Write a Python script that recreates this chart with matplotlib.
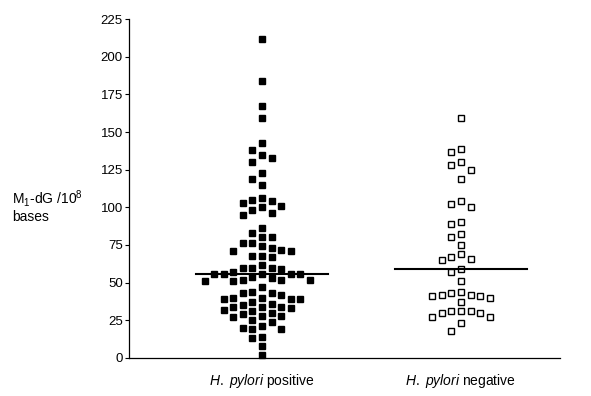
import numpy as np
import matplotlib
matplotlib.use("Agg")
import matplotlib.pyplot as plt

plt.rcParams['font.family'] = ['Liberation Sans', 'DejaVu Sans']
plt.rcParams['mathtext.fontset'] = 'custom'
plt.rcParams['mathtext.rm'] = 'Liberation Sans'
plt.rcParams['mathtext.it'] = 'Liberation Sans:italic'

# M1-dG adducts per 10^8 bases
hp_positive = [212, 184, 167, 159, 143, 138, 135, 133, 130, 123, 119, 115,
               106, 105, 104, 103, 101, 100, 98, 96, 95, 86, 83, 80, 80,
               76, 76, 74, 73, 72, 71, 71, 68, 68, 67, 62, 60, 60, 60, 59,
               57, 56, 56, 56, 56, 56, 54, 53, 52, 52, 52, 51, 51, 47,
               44, 43, 43, 42, 40, 40, 39, 39, 39, 37, 36, 35, 34, 34, 34,
               33, 32, 31, 30, 29, 28, 28, 27, 25, 24, 21, 20, 19, 19,
               14, 13, 8, 2]
hp_negative = [159, 139, 137, 130, 128, 125, 119, 104, 102, 100, 90, 89,
               82, 80, 75, 69, 67, 66, 65, 59, 57, 51, 44, 43, 42, 42, 41,
               41, 40, 37, 31, 31, 31, 30, 30, 27, 27, 23, 18]
group_labels = [r"$\mathit{H.\ pylori}$ positive", r"$\mathit{H.\ pylori}$ negative"]
y_ticks = [0, 25, 50, 75, 100, 125, 150, 175, 200, 225]


def swarm_x(values, center, lane_w=0.048, min_dy=5.2):
    # put each point in the nearest free lane, like a prism column scatter
    order = np.argsort(values)[::-1]
    lanes = {}
    xs = np.zeros(len(values))
    for i in order:
        v = values[i]
        k = 0
        while True:
            for lane in ([0] if k == 0 else [-k, k]):
                taken = lanes.get(lane, [])
                if all(abs(v - t) >= min_dy for t in taken):
                    lanes.setdefault(lane, []).append(v)
                    xs[i] = center + lane * lane_w
                    break
            else:
                k += 1
                continue
            break
    return xs


fig = plt.figure(figsize=(5.91, 3.96), dpi=100)
ax = fig.add_axes([0.2183, 0.096, 0.729, 0.856])

pos = np.array(hp_positive, dtype=float)
neg = np.array(hp_negative, dtype=float)

ax.plot(swarm_x(pos, 1), pos, 's', color='black', markersize=5.0, clip_on=False)
ax.plot(swarm_x(neg, 2), neg, 's', markerfacecolor='white', markeredgecolor='black',
        markeredgewidth=1.0, markersize=4.6, clip_on=False)

for c, vals in [(1, pos), (2, neg)]:
    m = np.median(vals)
    ax.plot([c - 0.33, c + 0.33], [m, m], color='black', lw=1.5)

ax.set_xlim(0.332, 2.497)
ax.set_ylim(0, 225)
ax.set_yticks(y_ticks)
ax.set_xticks([1, 2])
ax.set_xticklabels(group_labels, fontsize=10)
ax.tick_params(axis='x', length=0, pad=10)
ax.tick_params(axis='y', length=3, width=0.8, labelsize=9.5, pad=1.5)
for s in ['top', 'right']:
    ax.spines[s].set_visible(False)
ax.spines['left'].set_linewidth(0.9)
ax.spines['bottom'].set_linewidth(0.9)

fig.text(0.02, 0.48, "M$_1$-dG /10$^8$\nbases", fontsize=10, ha='left', va='center',
         linespacing=1.05)

plt.savefig('out.png', dpi=100)
